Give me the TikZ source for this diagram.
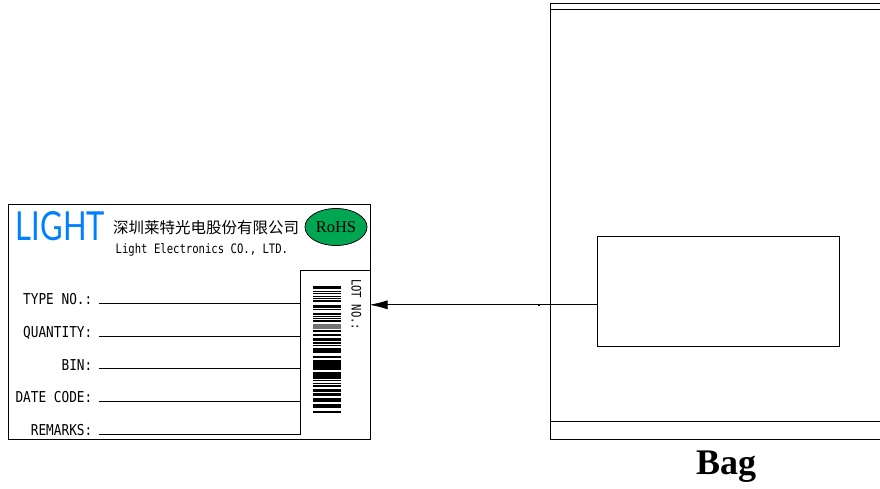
\documentclass[tikz,border=0pt]{standalone}
\usepackage{graphicx}
\usepackage{fontspec}
\setmainfont{Liberation Serif}
\newfontfamily\lblfont[FakeStretch=0.85]{DejaVu Sans Mono}
\newfontfamily\smallfont[FakeStretch=0.816]{DejaVu Sans Mono}
\newfontfamily\logofont{Lato}
\newfontfamily\cjkfont{Noto Sans CJK SC}
\usetikzlibrary{arrows.meta,shapes.geometric}
\definecolor{logoblue}{RGB}{0,128,255}
\definecolor{rohsgreen}{RGB}{0,166,81}
\tikzset{
  x=1pt,y=-1pt,
  thinline/.style={draw=black,line width=0.75pt},
  fieldlbl/.style={anchor=base east,inner sep=0pt,font=\lblfont\fontsize{15}{16}\selectfont},
  bar/.style={fill=black,draw=none},
  graybar/.style={fill=black!55,draw=none}
}
\newcommand{\hbarcode}[2]{\path[bar] (313,#1) rectangle (341,#2);}
\begin{document}
\begin{tikzpicture}
\useasboundingbox (0.5,0.5) rectangle (880.5,488.5);
% label
\node[thinline,minimum width=362pt,minimum height=235pt,inner sep=0pt,anchor=north west] (label) at (8,204) {};
\node[anchor=center,inner sep=0pt,text=logoblue,font=\logofont] (logo) at (61,226.5) {\resizebox{89pt}{29pt}{LIGHT}};
\node[anchor=west,inner sep=0pt,font=\cjkfont\fontsize{15.5}{16}\selectfont] (company) at (113.5,228) {深圳莱特光电股份有限公司};
\node[anchor=base west,inner sep=0pt,font=\smallfont\fontsize{13}{14}\selectfont] (english) at (116,254) {Light Electronics CO., LTD.};
\node[ellipse,draw=black,line width=0.75pt,fill=rohsgreen,minimum width=62pt,minimum height=37pt,inner sep=0pt,font=\fontsize{16.5}{17}\selectfont] (rohs) at (336.5,227.5) {RoHS};
% lot box
\coordinate (lotTL) at (301,271);
\coordinate (lotTR) at (370,271);
\coordinate (lotBL) at (301,435);
\draw[thinline] (lotTR) -- (lotTL) -- (lotBL);
\node[rotate=-90,anchor=base west,inner sep=0pt,font=\smallfont\fontsize{13}{14}\selectfont] (lot) at (352,279.5) {LOT NO.:};
% fields
\foreach \n/\t/\y in {a/TYPE NO.:/305,b/QUANTITY:/338,c/BIN:/371,d/DATE CODE:/403,e/REMARKS:/436}{
  \node[fieldlbl] (lbl\n) at (93,\y) {\t};
}
\foreach \n/\y in {a/304,b/337,c/369,d/402,e/435}{
  \coordinate (ls\n) at (99,\y);
  \coordinate (le\n) at (301,\y);
  \draw[thinline] (ls\n) -- (le\n);
}
% barcode
\foreach \a/\b in {286/289.5,291.3/292.7,293.7/294.6,296/297.3,298.7/299.6,300.7/302,305.3/308,309.3/310.7,313.3/315.3,316.3/317.3,318.3/319.7,320.7/322.7,330.7/332,334/336,338.7/341.3,342.7/344,345.3/346.7,348.7/353.3,356/358,360/370.7,372.7/379.3,380.7/381.7,383/384.3,385.3/387,389.7/392.7,393.7/396.3,398.7/402.7,404.3/408.7,411/413.3}{
  \hbarcode{\a}{\b}
}
\path[graybar] (313,324.5) rectangle (341,329.5);
% bag
\coordinate (bagTL) at (550.6,4);
\coordinate (bagTR) at (881,4);
\coordinate (bagBL) at (550.6,439.5);
\coordinate (bagBR) at (881,439.5);
\draw[thinline] (bagTR) -- (bagTL) -- (bagBL) -- (bagBR);
\coordinate (bagA) at (550.6,9.4);
\coordinate (bagA2) at (881,9.4);
\coordinate (bagB) at (550.6,421.5);
\coordinate (bagB2) at (881,421.5);
\draw[thinline] (bagA) -- (bagA2);
\draw[thinline] (bagB) -- (bagB2);
\node[thinline,minimum width=242pt,minimum height=110pt,inner sep=0pt,anchor=north west] (pocket) at (597.8,236) {};
\node[anchor=base,inner sep=0pt,font=\bfseries\fontsize{36}{38}\selectfont] (bagtxt) at (726.5,474.5) {Bag};
% connector
\coordinate (arrowstart) at (597.8,305.3);
\coordinate (arrowtip) at (370,305.3);
\draw[line width=0.75pt,-{Latex[length=18pt,width=9pt]}] (arrowstart) -- (arrowtip);
\fill[black] (538,304.5) rectangle (540,306.1);
\end{tikzpicture}
\end{document}
